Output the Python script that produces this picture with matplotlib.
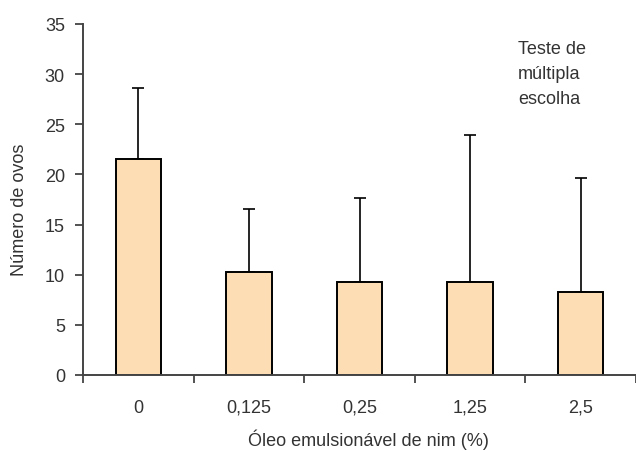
import numpy as np
import matplotlib
matplotlib.use('Agg')
import matplotlib.pyplot as plt

plt.rcParams['font.family'] = ['Liberation Sans', 'DejaVu Sans']

# data
categorias = ['0', '0,125', '0,25', '1,25', '2,5']
media = [21.5, 10.3, 9.3, 9.3, 8.3]
erro = [7.1, 6.3, 8.3, 14.6, 11.3]

fig = plt.figure(figsize=(6.36, 4.52), dpi=100)
ax = fig.add_axes([83/636, 1-376/452, 1-83/636, (376-25)/452])

x = np.arange(len(categorias))
ax.bar(x, media, width=0.41, color='#FCDDB4', edgecolor='black', linewidth=1.4, zorder=2)
ax.errorbar(x, media, yerr=[np.zeros(len(erro)), erro], fmt='none',
            ecolor='black', elinewidth=1.2, capsize=4.5, capthick=1.2, zorder=1)

ax.set_xlim(-0.5, len(categorias)-0.5)
ax.set_ylim(0, 35)
ax.set_yticks(np.arange(0, 36, 5))
ax.set_xticks(x)
ax.set_xticklabels(categorias)
ax.set_xticks(np.arange(-0.5, len(categorias), 1), minor=True)
ax.tick_params(axis='x', which='major', length=0, pad=17, labelsize=13, colors='#333333')
ax.tick_params(axis='x', which='minor', length=6, width=1.3, color='#444444')
ax.tick_params(axis='y', length=6, width=1.3, color='#444444', labelsize=13, labelcolor='#333333', pad=7)

for s in ['top', 'right']:
    ax.spines[s].set_visible(False)
for s in ['left', 'bottom']:
    ax.spines[s].set_color('#444444')
    ax.spines[s].set_linewidth(1.4)
ax.spines['bottom'].set_clip_on(False)

ax.set_ylabel('Número de ovos', fontsize=13, color='#333333')
ax.set_xlabel('Óleo emulsionável de nim (%)', fontsize=13, color='#333333')
ax.yaxis.set_label_coords(-0.1, 0.473)
ax.xaxis.set_label_coords(0.517, -0.152)

fig.text(518/636, 1-41/452, 'Teste de\nmúltipla\nescolha', fontsize=13,
         color='#333333', va='top', ha='left', linespacing=1.6)

fig.savefig('out.png', dpi=100)
